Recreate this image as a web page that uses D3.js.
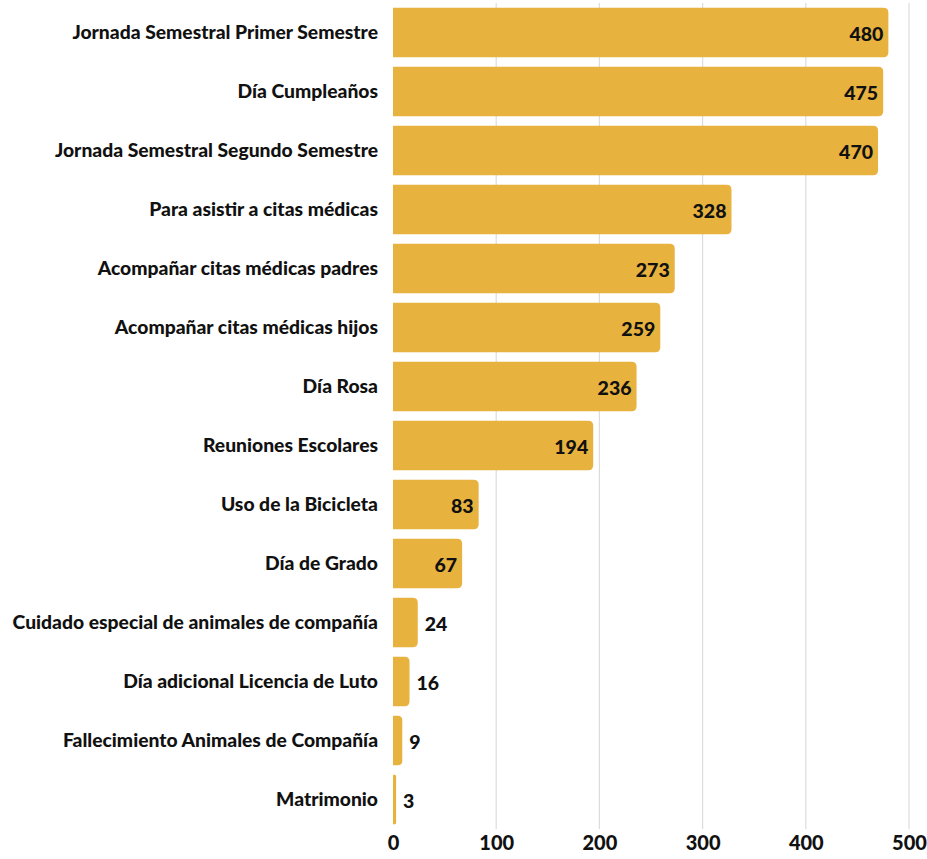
<!DOCTYPE html>
<html>
<head>
<meta charset="utf-8">
<script src="https://cdn.jsdelivr.net/npm/d3@7"></script>
<style>
  html, body { margin: 0; padding: 0; background: #ffffff; }
  svg { display: block; }
  text { font-family: Lato, "Open Sans", sans-serif; font-weight: 900; fill: #111; }
</style>
</head>
<body>
<svg id="chart" width="927" height="859"></svg>
<script>
// Permisos utilizados por tipo
const categories = [
  "Jornada Semestral Primer Semestre",
  "Día Cumpleaños",
  "Jornada Semestral Segundo Semestre",
  "Para asistir a citas médicas",
  "Acompañar citas médicas padres",
  "Acompañar citas médicas hijos",
  "Día Rosa",
  "Reuniones Escolares",
  "Uso de la Bicicleta",
  "Día de Grado",
  "Cuidado especial de animales de compañía",
  "Día adicional Licencia de Luto",
  "Fallecimiento Animales de Compañía",
  "Matrimonio"
];
const values = [480, 475, 470, 328, 273, 259, 236, 194, 83, 67, 24, 16, 9, 3];
const xTicks = [0, 100, 200, 300, 400, 500];

const svg = d3.select("#chart");
const margin = { left: 393, top: 3, right: 18, bottom: 26 };
const width = 927, height = 859;

const x = d3.scaleLinear()
  .domain([0, 500])
  .range([margin.left, width - margin.right]);

const y = d3.scaleBand()
  .domain(categories)
  .range([margin.top, height - margin.bottom - 4])
  .paddingInner(0.16)
  .paddingOuter(0.08);

// vertical gridlines
svg.append("g")
  .selectAll("line")
  .data(xTicks.filter(d => d > 0))
  .join("line")
  .attr("x1", d => x(d)).attr("x2", d => x(d))
  .attr("y1", margin.top).attr("y2", height - margin.bottom - 4)
  .attr("stroke", "#dcdcdc")
  .attr("stroke-width", 1.2);

// bars with rounded ends on the right
const r = 5;
svg.append("g")
  .selectAll("path")
  .data(categories)
  .join("path")
  .attr("fill", "#E8B23F")
  .attr("d", (c, i) => {
    const x0 = x(0), x1 = x(values[i]);
    const y0 = y(c), h = y.bandwidth();
    const rr = Math.min(r, (x1 - x0) / 2);
    return `M${x0},${y0}H${x1 - rr}Q${x1},${y0} ${x1},${y0 + rr}` +
           `V${y0 + h - rr}Q${x1},${y0 + h} ${x1 - rr},${y0 + h}H${x0}Z`;
  });

// value labels: inside for long bars, outside for short ones
svg.append("g")
  .selectAll("text")
  .data(categories)
  .join("text")
  .attr("x", (c, i) => values[i] >= 50 ? x(values[i]) - 5 : x(values[i]) + 7)
  .attr("y", c => y(c) + y.bandwidth() / 2 + 8)
  .attr("text-anchor", (c, i) => values[i] >= 50 ? "end" : "start")
  .style("font-size", "19.5px")
  .text((c, i) => values[i]);

// category axis
const yAxis = svg.append("g")
  .attr("transform", `translate(${margin.left},0)`)
  .call(d3.axisLeft(y).tickSize(0).tickPadding(15));
yAxis.select(".domain").remove();
yAxis.selectAll("text")
  .style("font-size", "19.3px")
  .attr("dy", "0.35em");

// value axis
const xAxis = svg.append("g")
  .attr("transform", `translate(0,${height - margin.bottom})`)
  .call(d3.axisBottom(x).tickValues(xTicks).tickSize(0).tickPadding(3));
xAxis.select(".domain").remove();
xAxis.selectAll("text")
  .style("font-size", "20px");
</script>
</body>
</html>
